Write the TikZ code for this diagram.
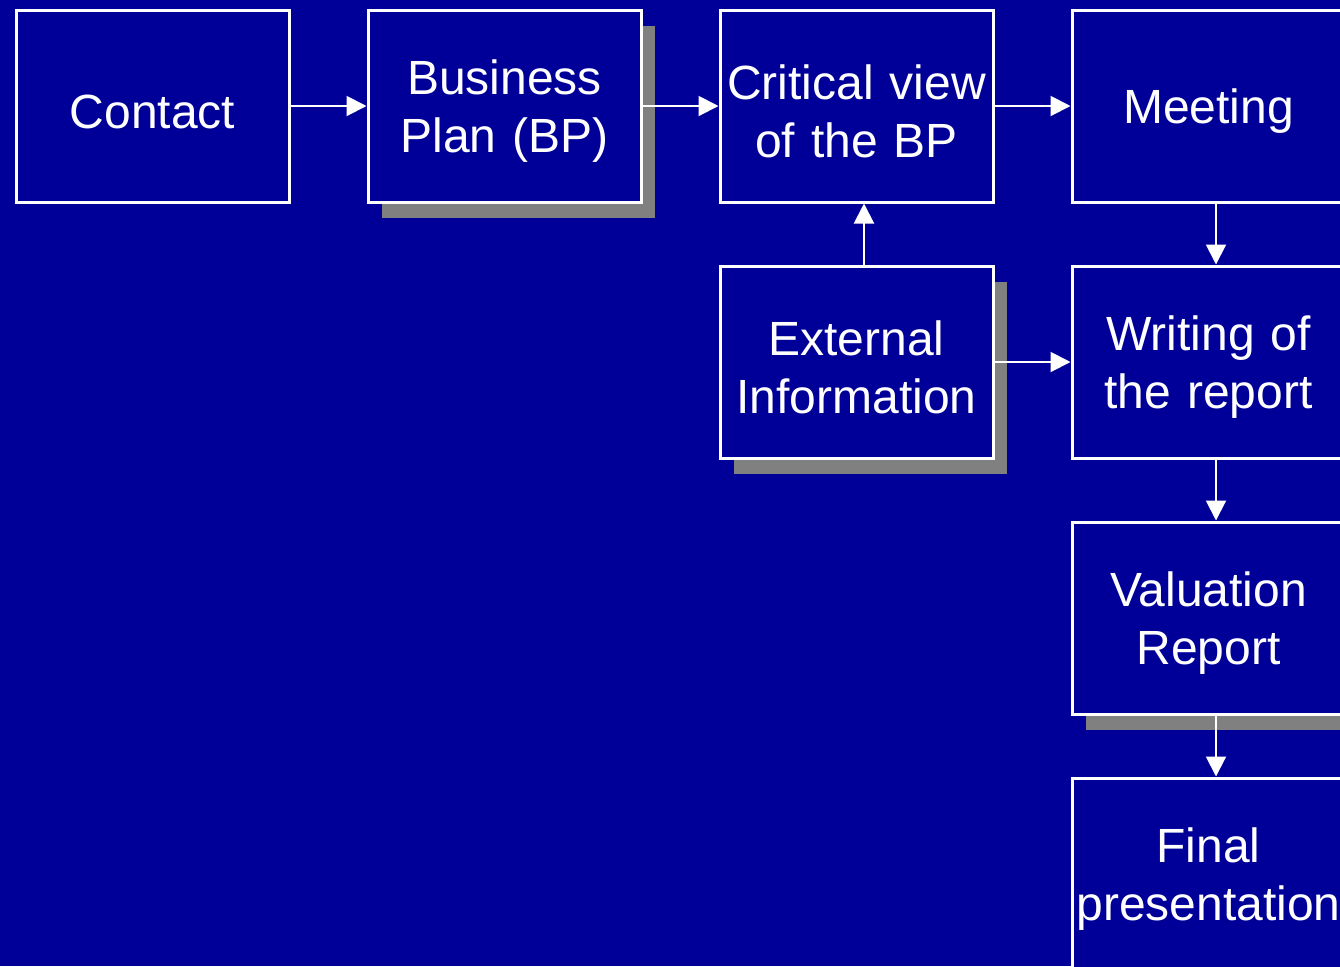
\documentclass[tikz,border=0pt]{standalone}
\usepackage{fontspec}
\setmainfont{Liberation Sans}
\usetikzlibrary{arrows.meta,shadows}
\definecolor{bgblue}{RGB}{0,0,153}
\definecolor{shgray}{RGB}{128,128,128}
\begin{document}
\begin{tikzpicture}[x=0.5pt,y=-0.5pt,
  box/.style={draw=white,line width=1.5pt,fill=bgblue,text width=136.5pt,minimum height=96pt,
    inner sep=0pt,align=center,text=white,font=\fontsize{24}{29}\selectfont,
    execute at begin node={\rule{0pt}{22.5pt}}},
  shbox/.style={box,drop shadow={shadow xshift=7pt,shadow yshift=-8pt,fill=shgray,opacity=1}},
  arr/.style={draw=white,line width=1pt,-{Triangle[length=10pt,width=10pt]}}]
\fill[bgblue] (0,0) rectangle (1340,966);
\useasboundingbox (0,0) rectangle (1340,966);
\clip (0,0) rectangle (1340,966);
\node[box] (contact) at (152.5,106) {Contact};
\node[shbox] (bp) at (504.5,106) {Business\\Plan (BP)};
\node[box] (crit) at (856.5,106) {Critical view\\of the BP};
\node[box] (meet) at (1208.5,106) {Meeting};
\node[shbox] (ext) at (856.5,362) {External\\Information};
\node[box] (write) at (1208.5,362) {Writing of\\the report};
\node[shbox] (val) at (1208.5,618) {Valuation\\Report};
\node[box] (final) at (1208.5,874) {Final\\presentation};
\draw[arr] (contact.east) -- (bp.west);
\draw[arr] (bp.east) -- (crit.west);
\draw[arr] (crit.east) -- (meet.west);
\draw[arr] ([xshift=3.75pt]ext.north) -- ([xshift=3.75pt]crit.south);
\draw[arr] (ext.east) -- (write.west);
\draw[arr] ([xshift=3.75pt]meet.south) -- ([xshift=3.75pt]write.north);
\draw[arr] ([xshift=3.75pt]write.south) -- ([xshift=3.75pt]val.north);
\draw[arr] ([xshift=3.75pt]val.south) -- ([xshift=3.75pt]final.north);
\end{tikzpicture}
\end{document}
